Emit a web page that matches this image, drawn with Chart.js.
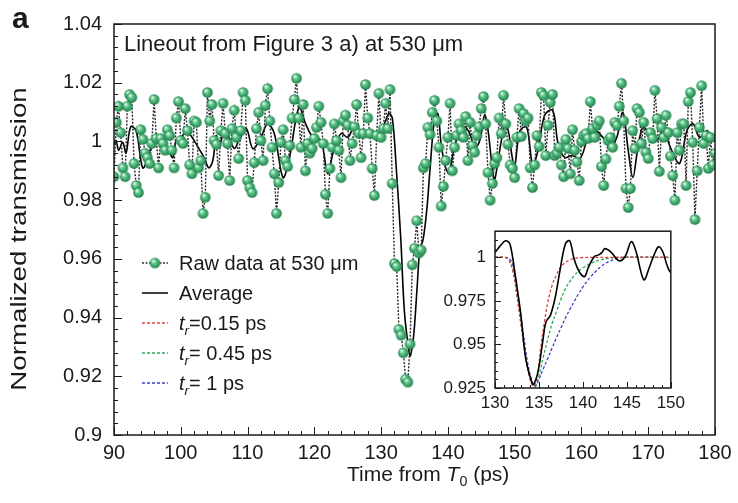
<!DOCTYPE html>
<html>
<head>
<meta charset="utf-8">
<script src="https://cdn.jsdelivr.net/npm/chart.js@4.4.0/dist/chart.umd.min.js"></script>
<style>
  html, body { margin: 0; padding: 0; background: #fff; }
  #wrap { position: relative; width: 738px; height: 503px; }
  #main { position: absolute; left: 0; top: 0; }
  #inset { position: absolute; left: 440px; top: 212px; }
</style>
</head>
<body>
<div id="wrap">
  <canvas id="main" width="738" height="503"></canvas>
  <canvas id="inset" width="250" height="205"></canvas>
</div>
<script>
// raw lineout, sampled every 1/3 ps from 90 ps
const rawStart = 90
const rawStep = 1 / 3
const rawValues = [
  0.988, 1.0065, 1.012, 1.003, 0.991, 0.988, 1.012, 1.016, 1.015, 0.9925,
  0.985, 0.9826, 1.004, 1.0007, 0.996, 0.9945, 0.9925, 0.9993, 1.0143, 1.001,
  0.991, 1.001, 0.9993, 0.997, 1.004, 1.002, 0.997, 0.991, 1.008, 1.0136,
  1.0003, 0.9993, 1.0112, 1.0037, 0.992, 0.989, 1.007, 1.0065, 0.991, 0.9935,
  0.9755, 0.981, 1.0167, 1.007, 1.0126, 1.0003, 0.999, 0.9884, 1.0037, 1.013,
  1.0027, 0.9993, 0.9867, 1.0044, 1.0106, 1.0014, 0.9942, 1.0037, 1.0167, 1.014,
  0.9867,
  0.9843, 0.9826, 0.9928, 1.0044, 1.0099, 1.0003, 0.9935, 1.0123, 1.018, 1.007,
  0.998, 0.989, 0.9755, 0.986, 0.9997, 1.004, 0.9935, 0.9915, 0.9986, 1.008,
  1.0143, 1.0215, 1.008, 0.998, 1.0126, 0.990, 0.9993, 0.996, 0.9976, 1.001,
  1.0048, 1.012, 1.0065, 0.9993, 0.982, 0.9755, 0.9908, 0.998, 1.006, 1.0003,
  0.997, 0.9877, 1.007, 1.009, 1.0055, 0.9935, 0.9993, 1.005, 1.0126, 1.0027,
  0.9945, 1.0027, 1.0194, 1.008, 1.0027, 0.9908, 0.9816, 1.002, 1.0164, 1.0014,
  1.0044, 1.013, 1.0044, 1.0177, 0.9857,
  0.9584, 0.9574, 0.936, 0.934, 0.928, 0.919, 0.918, 0.931, 0.958, 0.9636, 0.973, 0.962, 0.963,
  0.991, 0.9925, 1.0048, 1.0024, 1.0099, 1.014, 1.007, 0.998, 0.978, 0.9847,
  0.9935, 1.0014, 1.013, 0.990, 0.998, 1.002, 1.006, 1.0037, 1.0014, 1.0085,
  0.9935, 1.0065, 0.9986, 0.9963, 1.002, 1.005, 1.0112, 1.0153, 1.006, 0.9894,
  0.980, 0.9857, 0.9925, 0.9945, 1.008, 1.0027, 1.0157, 1.006, 0.999, 0.992,
  0.9908, 0.9877, 1.0014, 1.0112, 1.0017, 1.0095, 1.007, 1.008, 0.991, 0.9843,
  0.992, 1.002, 0.9983, 1.0167, 1.0157, 0.9952,
  1.0055, 1.0133, 1.016, 0.9952, 0.996, 0.998, 0.992, 0.988, 1.0007, 0.9976,
  0.989, 1.004, 0.997, 0.993, 0.9867, 1.0, 1.002, 1.0027, 1.001, 1.0136,
  1.0044, 1.0014, 1.0055, 1.007, 0.9915, 0.985, 0.994, 1.0003, 1.0014, 0.998,
  1.0065, 1.0055, 1.012, 1.0198, 1.007, 0.984, 0.9775, 0.984, 1.0037, 0.9976,
  1.0112, 1.0099, 0.9993, 1.0065, 0.9963, 0.9942, 1.003, 1.001, 1.0174, 1.0078,
  0.9898, 1.0048, 1.0014, 1.0089, 1.003, 0.995, 0.9884, 0.980, 1.003, 0.997,
  1.006, 1.006, 0.985, 1.0136, 1.0167, 0.9997, 0.9734, 0.990, 1.0048, 1.019,
  0.9993, 1.002, 0.9908, 1.0014, 0.992, 0.996
]

// smoothed average
const avgTimes = [
  90, 90.3, 90.7, 91.3, 91.8, 92.5, 93.3, 94.3, 95.1, 95.8,
  96.6, 97.3, 98.1, 98.8, 99.3, 100, 100.8, 101.5, 102.6, 103.5,
  104.2, 104.8, 105.3, 105.7, 106.5, 107.2, 108, 108.7, 109.8, 110.8,
  112, 113, 114, 115.3, 116.2, 117.7, 118.7, 119.8, 121, 122,
  122.9, 124, 125, 125.9, 127, 128, 128.9, 129.9, 130.5, 131.2,
  131.7, 132.3, 132.95, 133.5, 134.2, 134.4, 134.9, 135.4, 135.8, 136.3,
  136.85, 137.3, 138, 138.5, 139, 139.6, 140.2, 140.6, 141.3, 141.8,
  142.2, 142.5, 143.2, 144.1, 144.8, 145.5, 146, 146.7, 147, 147.5,
  148.1, 148.6, 149.1, 149.6, 150, 150.8, 151.8, 152.7, 153.5, 154.5,
  155.7, 156.5, 157.5, 158.6, 159.8, 161, 162, 163.2, 164.3, 165.3,
  166.2, 167, 167.7, 168.4, 169.2, 170.2, 171.3, 172.2, 173.5, 174.7,
  175.8, 176.7, 177.7, 178.8, 179.7, 180
]
const avgValues = [
  0.999, 1.0003, 0.997, 0.9997, 0.996, 1.005, 1.0037, 0.991, 0.9945, 0.9993,
  0.9997, 0.9986, 0.997, 0.9945, 1.0003, 1.0014, 1.003, 1.002, 0.998, 0.9945,
  0.991, 0.9935, 1.002, 0.998, 1.003, 1.0014, 0.9976, 1.0003, 1.0044, 0.9975,
  1.0014, 1.006, 1.0027, 0.9877, 0.9935, 1.0116, 1.006, 1.0014, 1.0003, 0.989,
  0.997, 1.0027, 1.0014, 1.0044, 1.0027, 1.0037, 1.0014, 1.0025, 1.006, 1.0095,
  1.0077, 0.9898, 0.9667, 0.9417, 0.928, 0.927, 0.9345, 0.9506, 0.963, 0.9667,
  0.977, 0.9898, 1.0077, 1.0095, 0.999, 0.9916, 0.989, 0.994, 1.0005, 1.0014,
  1.003, 1.005, 1.003, 0.998, 1.0005, 1.009, 1.004, 0.9898, 0.987, 0.9934,
  1.0014, 1.006, 1.003, 0.995, 0.9916, 1.0037, 1.0048, 0.992, 0.997, 1.009,
  1.0106, 0.9993, 0.9945, 0.9952, 0.9942, 1.0014, 1.0037, 1.0014, 0.998, 1.0014,
  1.0099, 0.997, 0.9877, 0.997, 1.0048, 1.0027, 1.0003, 1.0037, 0.997, 0.9925,
  1.0037, 1.006, 1.0014, 1.0037, 1.0003, 1.0
]

// fits (inset)
const redTimes = [130, 131, 131.5, 132, 132.5, 133, 133.5, 134, 134.4, 134.8, 135.2, 135.6, 136, 136.5, 137, 137.5, 138, 138.5, 139, 140, 141, 150]
const redValues = [1, 1, 0.999, 0.993, 0.978, 0.96, 0.943, 0.93, 0.926, 0.931, 0.948, 0.962, 0.974, 0.984, 0.99, 0.9945, 0.997, 0.9985, 0.9993, 0.9999, 1, 1]
const greenTimes = [130, 131, 131.5, 132, 132.5, 133, 133.5, 134, 134.5, 135, 135.5, 136, 136.5, 137, 137.5, 138, 138.5, 139, 139.5, 140, 141, 142, 143, 144, 150]
const greenValues = [1, 1, 0.999, 0.993, 0.978, 0.96, 0.943, 0.93, 0.926, 0.932, 0.943, 0.953, 0.962, 0.969, 0.976, 0.982, 0.986, 0.9895, 0.992, 0.994, 0.9968, 0.9985, 0.9995, 1, 1]
const blueTimes = [130, 131, 131.7, 132.2, 132.7, 133.2, 133.7, 134.2, 134.6, 135, 135.5, 136, 136.5, 137, 137.5, 138, 138.5, 139, 139.5, 140, 140.5, 141, 141.5, 142, 142.5, 143, 143.5, 144, 144.5, 150]
const blueValues = [1, 1, 0.999, 0.992, 0.975, 0.957, 0.94, 0.929, 0.926, 0.93, 0.936, 0.942, 0.948, 0.954, 0.9595, 0.965, 0.97, 0.9745, 0.979, 0.983, 0.9865, 0.9895, 0.9922, 0.9945, 0.9963, 0.9977, 0.9987, 0.9994, 1, 1]

// tick labels
const mainXTicks = [90, 100, 110, 120, 130, 140, 150, 160, 170, 180]
const mainYTicks = [0.9, 0.92, 0.94, 0.96, 0.98, 1, 1.02, 1.04]
const insetXTicks = [130, 135, 140, 145, 150]
const insetYTicks = [0.925, 0.95, 0.975, 1]

const FONT = "'Liberation Sans', Arial, Helvetica, sans-serif"
const INK = '#1a1a1a'
const RED = '#e0403c', GREEN = '#2fa85a', BLUE = '#3f3fcf'

const pairs = (ts, vs) => ts.map((t, i) => ({ x: t, y: vs[i] }))
const rawPoints = rawValues.map((v, i) => ({ x: rawStart + i * rawStep, y: v }))

//little shaded sphere used as the marker
function makeBall(r) {
  const c = document.createElement('canvas')
  const s = Math.ceil(r * 2 + 2)
  c.width = c.height = s
  const g = c.getContext('2d')
  const m = s / 2
  const grad = g.createRadialGradient(m - r * 0.35, m - r * 0.4, r * 0.1, m, m, r)
  grad.addColorStop(0, '#e2f7ea')
  grad.addColorStop(0.35, '#63c98f')
  grad.addColorStop(1, '#1e8049')
  g.fillStyle = grad
  g.beginPath(); g.arc(m, m, r, 0, Math.PI * 2); g.fill()
  return c
}
const ball = makeBall(5.3)

// frame + inward ticks, used by both charts
const frameTicks = {
  id: 'frameTicks',
  afterDatasetsDraw(chart, args, o) {
    const { ctx, chartArea: a, scales: { x, y } } = chart
    ctx.save()
    ctx.strokeStyle = INK
    ctx.lineWidth = 1
    ctx.beginPath()
    const nx = Math.round((x.max - x.min) / o.xMinor)
    for (let i = 0; i <= nx; i++) {
      const v = x.min + i * o.xMinor
      const px = Math.round(x.getPixelForValue(v)) + 0.5
      const len = (i % o.xEvery === 0) ? o.major : o.minor
      ctx.moveTo(px, a.bottom); ctx.lineTo(px, a.bottom - len)
    }
    const ny = Math.round((y.max - y.min) / o.yMinor)
    for (let i = 0; i <= ny; i++) {
      const v = y.min + i * o.yMinor
      if (v > y.max + 1e-9) break
      const py = Math.round(y.getPixelForValue(v)) + 0.5
      const len = (i % o.yEvery === 0) ? o.major : o.minor
      ctx.moveTo(a.left, py); ctx.lineTo(a.left + len, py)
    }
    ctx.stroke()
    ctx.lineWidth = o.lw
    ctx.strokeRect(a.left, a.top, a.right - a.left, a.bottom - a.top)
    ctx.restore()
  }
}

// subscripted text pieces: [text, italic, sub]
function drawRich(ctx, parts, x, y, size) {
  let cx = x
  parts.forEach(([txt, it, sub]) => {
    const s = sub ? size * 0.68 : size
    ctx.font = (it ? 'italic ' : '') + s + 'px ' + FONT
    ctx.fillText(txt, cx, sub ? y + size * 0.25 : y)
    cx += ctx.measureText(txt).width
  })
}

const mainTexts = {
  id: 'mainTexts',
  afterDraw(chart) {
    const { ctx } = chart
    ctx.save()
    ctx.fillStyle = INK
    ctx.textBaseline = 'alphabetic'
    ctx.textAlign = 'left'
    ctx.font = 'bold 30px ' + FONT
    ctx.fillText('a', 12, 28)
    ctx.font = '22px ' + FONT
    ctx.fillText('Lineout from Figure 3 a) at 530 \u03bcm', 124, 51)
    drawRich(ctx, [['Time from ', false, false], ['T', true, false], ['0', false, true], [' (ps)', false, false]], 347, 481, 21)
    // y title is drawn a bit stretched along its length, like the reference
    ctx.save()
    ctx.translate(26, 239)
    ctx.rotate(-Math.PI / 2)
    ctx.scale(1.26, 1)
    ctx.textAlign = 'center'
    ctx.font = '22px ' + FONT
    ctx.fillText('Normalized transmission', 0, 0)
    ctx.restore()

    // legend
    const rows = [263, 293, 323, 353, 383]
    const x0 = 142, x1 = 168, tx = 179
    ctx.lineWidth = 1.5
    ctx.strokeStyle = '#333'
    ctx.setLineDash([2, 1.5])
    ctx.beginPath(); ctx.moveTo(x0, rows[0]); ctx.lineTo(x1, rows[0]); ctx.stroke()
    ctx.drawImage(ball, 155 - ball.width / 2, rows[0] - ball.height / 2)
    ctx.setLineDash([])
    ctx.strokeStyle = '#000'
    ctx.beginPath(); ctx.moveTo(x0, rows[1]); ctx.lineTo(x1, rows[1]); ctx.stroke()
    ;[RED, GREEN, BLUE].forEach((c, i) => {
      ctx.strokeStyle = c
      ctx.lineWidth = 1.3
      ctx.setLineDash([3, 2])
      ctx.beginPath(); ctx.moveTo(x0, rows[2 + i]); ctx.lineTo(x1, rows[2 + i]); ctx.stroke()
    })
    ctx.setLineDash([])
    ctx.font = '20px ' + FONT
    ctx.fillText('Raw data at 530 \u03bcm', tx, rows[0] + 7)
    ctx.fillText('Average', tx, rows[1] + 7)
    const fitLabels = ['=0.15 ps', '= 0.45 ps', '= 1 ps']
    fitLabels.forEach((l, i) => {
      drawRich(ctx, [['t', true, false], ['r', true, true], [l, false, false]], tx, rows[2 + i] + 7, 20)
    })
    ctx.restore()
  }
}

const whiteArea = {
  id: 'whiteArea',
  beforeDraw(chart) {
    const { ctx, chartArea: a } = chart
    ctx.save()
    ctx.fillStyle = '#fff'
    ctx.fillRect(a.left, a.top, a.right - a.left, a.bottom - a.top)
    ctx.restore()
  }
}

const fmt = v => String(+v.toFixed(3))

new Chart(document.getElementById('main'), {
  type: 'line',
  data: {
    datasets: [
      {
        label: 'Raw data at 530 \u03bcm',
        data: rawPoints,
        borderColor: '#2a2a2a',
        borderWidth: 1.4,
        borderDash: [2, 1.5],
        pointStyle: ball,
        pointRadius: 5,
        tension: 0
      },
      {
        label: 'Average',
        data: pairs(avgTimes, avgValues),
        borderColor: '#000',
        borderWidth: 1.6,
        pointRadius: 0,
        tension: 0.35
      }
    ]
  },
  options: {
    responsive: false,
    animation: false,
    events: [],
    layout: { padding: { left: 0, right: 23, top: 24, bottom: 0 } },
    plugins: {
      legend: { display: false },
      tooltip: { enabled: false },
      frameTicks: { xMinor: 2, xEvery: 5, yMinor: 0.004, yEvery: 5, major: 8, minor: 4, lw: 1.5 }
    },
    scales: {
      x: {
        type: 'linear', min: 90, max: 180,
        afterBuildTicks: s => { s.ticks = mainXTicks.map(v => ({ value: v })) },
        ticks: { color: INK, font: { family: FONT, size: 20 }, padding: 6, maxRotation: 0, callback: fmt },
        grid: { display: false, drawTicks: false },
        border: { display: false },
        afterFit: s => { s.height = 68 }
      },
      y: {
        type: 'linear', min: 0.9, max: 1.04,
        afterBuildTicks: s => { s.ticks = mainYTicks.map(v => ({ value: v })) },
        ticks: { color: INK, font: { family: FONT, size: 20 }, padding: 12, callback: fmt },
        grid: { display: false, drawTicks: false },
        border: { display: false },
        afterFit: s => { s.width = 114 }
      }
    }
  },
  plugins: [frameTicks, mainTexts]
})

new Chart(document.getElementById('inset'), {
  type: 'line',
  data: {
    datasets: [
      { data: pairs(avgTimes, avgValues), borderColor: '#000', borderWidth: 1.6, pointRadius: 0, tension: 0.35 },
      { data: pairs(redTimes, redValues), borderColor: RED, borderWidth: 1.3, borderDash: [3, 2], pointRadius: 0, tension: 0.4 },
      { data: pairs(greenTimes, greenValues), borderColor: GREEN, borderWidth: 1.3, borderDash: [3, 2], pointRadius: 0, tension: 0.4 },
      { data: pairs(blueTimes, blueValues), borderColor: BLUE, borderWidth: 1.3, borderDash: [3, 2], pointRadius: 0, tension: 0.4 }
    ]
  },
  options: {
    responsive: false,
    animation: false,
    events: [],
    layout: { padding: { left: 0, right: 3, top: 7, bottom: 0 } },
    plugins: {
      legend: { display: false },
      tooltip: { enabled: false },
      frameTicks: { xMinor: 1, xEvery: 5, yMinor: 0.005, yEvery: 5, major: 6, minor: 3, lw: 1.5 }
    },
    scales: {
      x: {
        type: 'linear', min: 130, max: 150,
        afterBuildTicks: s => { s.ticks = insetXTicks.map(v => ({ value: v })) },
        ticks: { color: INK, font: { family: FONT, size: 17 }, padding: 5, maxRotation: 0, callback: fmt },
        grid: { display: false, drawTicks: false },
        border: { display: false },
        afterFit: s => { s.height = 29 }
      },
      y: {
        type: 'linear', min: 0.925, max: 1.015,
        afterBuildTicks: s => { s.ticks = insetYTicks.map(v => ({ value: v })) },
        ticks: { color: INK, font: { family: FONT, size: 17 }, padding: 9, callback: fmt },
        grid: { display: false, drawTicks: false },
        border: { display: false },
        afterFit: s => { s.width = 55 }
      }
    }
  },
  plugins: [whiteArea, frameTicks]
})
</script>
</body>
</html>
